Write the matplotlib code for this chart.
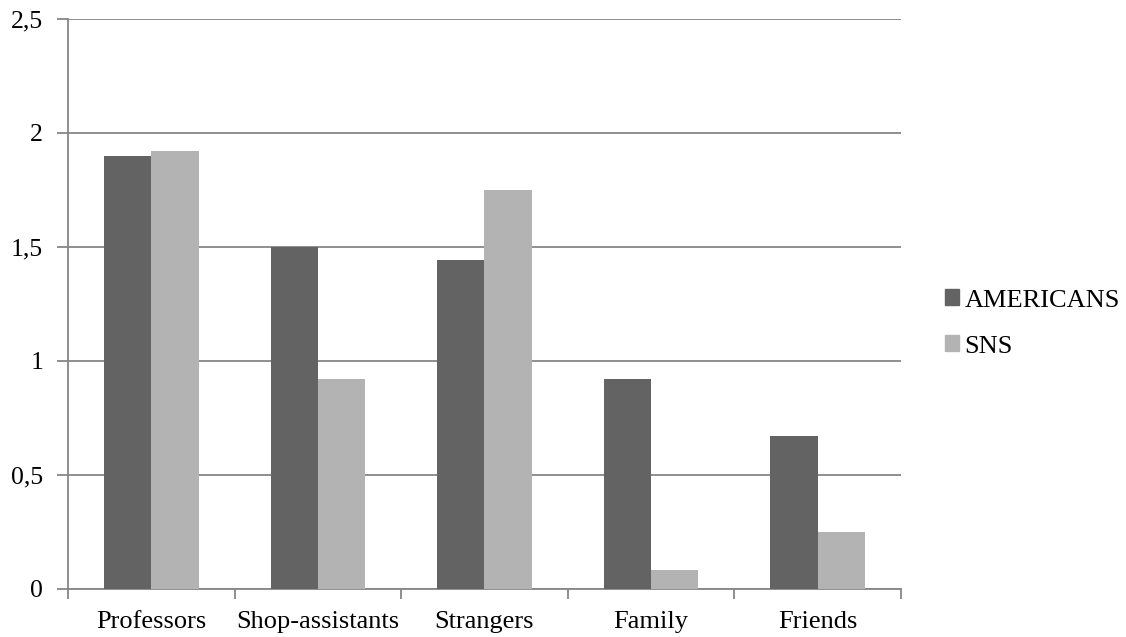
import matplotlib.pyplot as plt
import numpy as np
from matplotlib.patches import Patch

categories = ['Professors', 'Shop-assistants', 'Strangers', 'Family', 'Friends']
americans = [1.90, 1.50, 1.44, 0.92, 0.67]
sns_vals = [1.92, 0.92, 1.75, 0.08, 0.25]
yticks = [0, 0.5, 1, 1.5, 2, 2.5]
ytick_labels = ['0', '0,5', '1', '1,5', '2', '2,5']

plt.rcParams['font.family'] = ['Liberation Serif', 'DejaVu Serif']

dark = '#636363'
light = '#b3b3b3'
grid = '#868686'

fig = plt.figure(figsize=(11.26, 6.37), dpi=100)
ax = fig.add_axes([0.0605, 0.0758, 0.7395, 0.8948])

x = np.arange(len(categories))
w = 0.283
ax.bar(x - w / 2, americans, w, color=dark, zorder=3)
ax.bar(x + w / 2, sns_vals, w, color=light, zorder=3)

ax.set_xlim(-0.5, len(categories) - 0.5)
ax.set_ylim(0, 2.5)
ax.set_yticks(yticks)
ax.set_yticklabels(ytick_labels, fontsize=18.5)
ax.set_xticks(x)
ax.set_xticklabels(categories, fontsize=19)
ax.set_xticks(np.arange(len(categories) + 1) - 0.5, minor=True)
ax.tick_params(axis='x', which='major', length=0, pad=16)
ax.tick_params(axis='x', which='minor', length=7, color=grid, width=1.3)
ax.tick_params(axis='y', length=8, color=grid, width=1.3, pad=10)

ax.grid(axis='y', color=grid, linewidth=1.3, zorder=0)
for s in ['top', 'right']:
    ax.spines[s].set_visible(False)
for s in ['left', 'bottom']:
    ax.spines[s].set_color(grid)
    ax.spines[s].set_linewidth(1.3)

handles = [Patch(color=dark), Patch(color=light)]
fig.legend(handles, ['AMERICANS', 'SNS'], loc='center left',
           bbox_to_anchor=(0.818, 0.492), frameon=False, fontsize=19,
           handlelength=0.55, handleheight=0.55, handletextpad=0.2,
           labelspacing=0.9)

fig.savefig('out.png', dpi=100)
